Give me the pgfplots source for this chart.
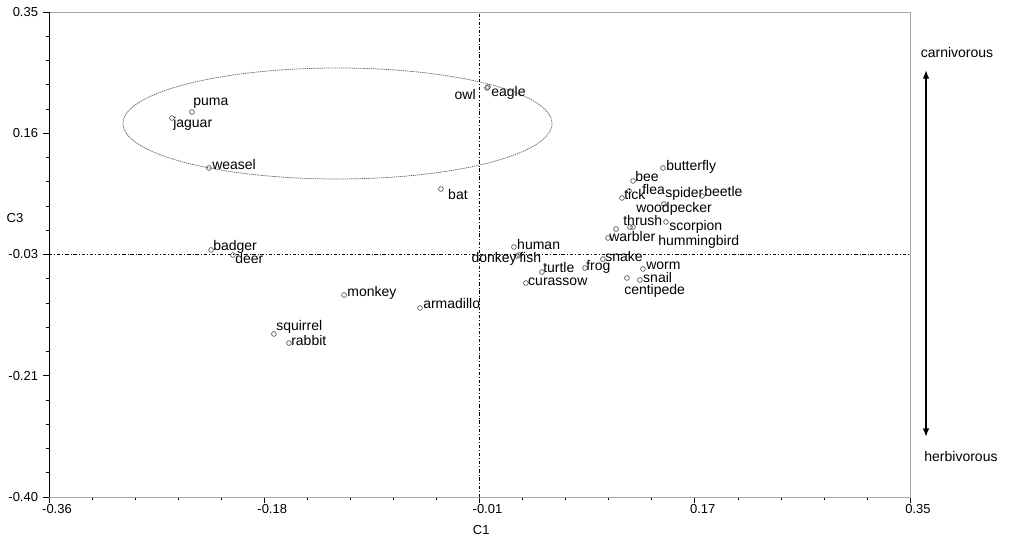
\documentclass[border=0pt]{standalone}
\usepackage{fontspec}
\setmainfont{Liberation Sans}
\usepackage{pgfplots}
\pgfplotsset{compat=1.18}
\usetikzlibrary{arrows.meta}

\begin{document}
\begin{tikzpicture}
\begin{axis}[
    scale only axis,
    width=645.75pt, height=363.75pt,
    xmin=-0.36, xmax=0.35, ymin=-0.40, ymax=0.35,
    xtick={-0.36,-0.1825,-0.005,0.1725,0.35},
    xticklabels={-0.36,-0.18,-0.01,0.17,0.35},
    ytick={-0.40,-0.2125,-0.025,0.1625,0.35},
    yticklabels={-0.40,-0.21,-0.03,0.16,0.35},
    minor x tick num=4, minor y tick num=4,
    tick pos=left, tick align=outside,
    major tick length=4.5pt, minor tick length=2.25pt,
    tick style={black, line width=0.4pt},
    axis line style={gray!70, line width=0.6pt},
    tick label style={font=\fontsize{9.75}{11}\selectfont},
    xticklabel style={anchor=north, inner sep=0pt, xshift=6pt, yshift=-1pt},
    yticklabel style={anchor=east, inner sep=0pt, xshift=-3.5pt},
    xlabel={C1}, ylabel={C3},
    every axis x label/.style={at={(rel axis cs:0.502,0)}, anchor=center, yshift=-24.75pt, font=\fontsize{9.75}{11}\selectfont},
    every axis y label/.style={at={(rel axis cs:0,0.576)}, anchor=center, xshift=-25.5pt, font=\fontsize{9.75}{11}\selectfont},
    clip=false,
]
\draw[black, line width=0.4pt, dash pattern=on 2.5pt off 1.5pt on 0.6pt off 1.5pt]
    (axis cs:-0.005,-0.40) -- (axis cs:-0.005,0.35);
\draw[black, line width=0.4pt, dash pattern=on 2.5pt off 1.5pt on 0.6pt off 1.5pt]
    (axis cs:-0.36,-0.025) -- (axis cs:0.35,-0.025);
\draw[black!60, line width=0.55pt, dash pattern=on 1pt off 0.6pt]
    (axis cs:-0.1221,0.1776) ellipse [x radius=0.1769, y radius=0.0858];

% marker positions (C1, C3) and label offsets in px
\addplot[only marks, mark=o, mark size=1.8pt, mark options={draw=black!75, line width=0.45pt},
    nodes near coords, point meta=explicit symbolic,
    visualization depends on={\thisrow{dx} \as \dx},
    visualization depends on={\thisrow{dy} \as \dy},
    visualization depends on={value \thisrow{anc} \as \anc},
    every node near coord/.append style={anchor=\anc, inner sep=0pt,
        xshift=\dx*0.75pt, yshift=\dy*0.75pt, text height=1.45ex, text depth=0.3ex,
        font=\fontsize{10.5}{12}\selectfont, text=black},
] table[x=x, y=y, meta=name] {
x y dx dy anc name
-0.2421 0.1954 1 11 west puma
-0.2586 0.1861 1 -5 west jaguar
-0.2281 0.1088 3 3 west weasel
0.0012 0.2325 -11 -7 east owl
0.0020 0.2340 3 -5 west eagle
-0.0368 0.0763 7 -6 west bat
0.1463 0.1088 3 2 west butterfly
0.1216 0.0887 2 4 west bee
0.1183 0.0732 13 1 west flea
0.1125 0.0624 2 3 west tick
0.1471 0.0531 1 11 west spider
0.1785 0.0655 2 4 west beetle
0.1191 0.0175 6 19 west woodpecker
0.1076 0.0144 7 8 west thrush
0.1488 0.0253 3 -4 west scorpion
0.1216 0.0175 25 -14 west hummingbird
0.1010 0.0005 1 1 west warbler
0.0968 -0.0320 2 2 west snake
0.0820 -0.0459 1 2 west frog
0.1298 -0.0474 3 4 west worm
0.1273 -0.0644 3 2 west snail
0.1166 -0.0613 -3 -12 west centipede
-0.2264 -0.0180 2 4 west badger
-0.2083 -0.0258 2 -4 west deer
-0.1167 -0.0876 3 3 west monkey
-0.0541 -0.1077 3 4 west armadillo
-0.1745 -0.1479 2 8 west squirrel
-0.1621 -0.1619 2 2 west rabbit
0.0234 -0.0134 3 2 west human
0.0259 -0.0273 0 -2 east donkey
0.0276 -0.0258 0 -3 west fish
0.0465 -0.0521 1 4 west turtle
0.0333 -0.0691 2 2 west curassow
};

\draw[black, line width=0.4pt] (rel axis cs:0,0) -- (rel axis cs:0,1);
\draw[{Latex[length=6.5pt,width=5pt]}-{Latex[length=6.5pt,width=5pt]}, line width=1.2pt]
    (rel axis cs:1.0186,0.1237) -- (rel axis cs:1.0186,0.8804);
\node[font=\fontsize{10.5}{12}\selectfont] at (rel axis cs:1.0546,0.9175) {carnivorous};
\node[font=\fontsize{10.5}{12}\selectfont] at (rel axis cs:1.0592,0.0825) {herbivorous};
\end{axis}
\pgfresetboundingbox
\path[use as bounding box] (-36.75pt,-36pt) rectangle (731.25pt,372.75pt);
\end{tikzpicture}
\end{document}
